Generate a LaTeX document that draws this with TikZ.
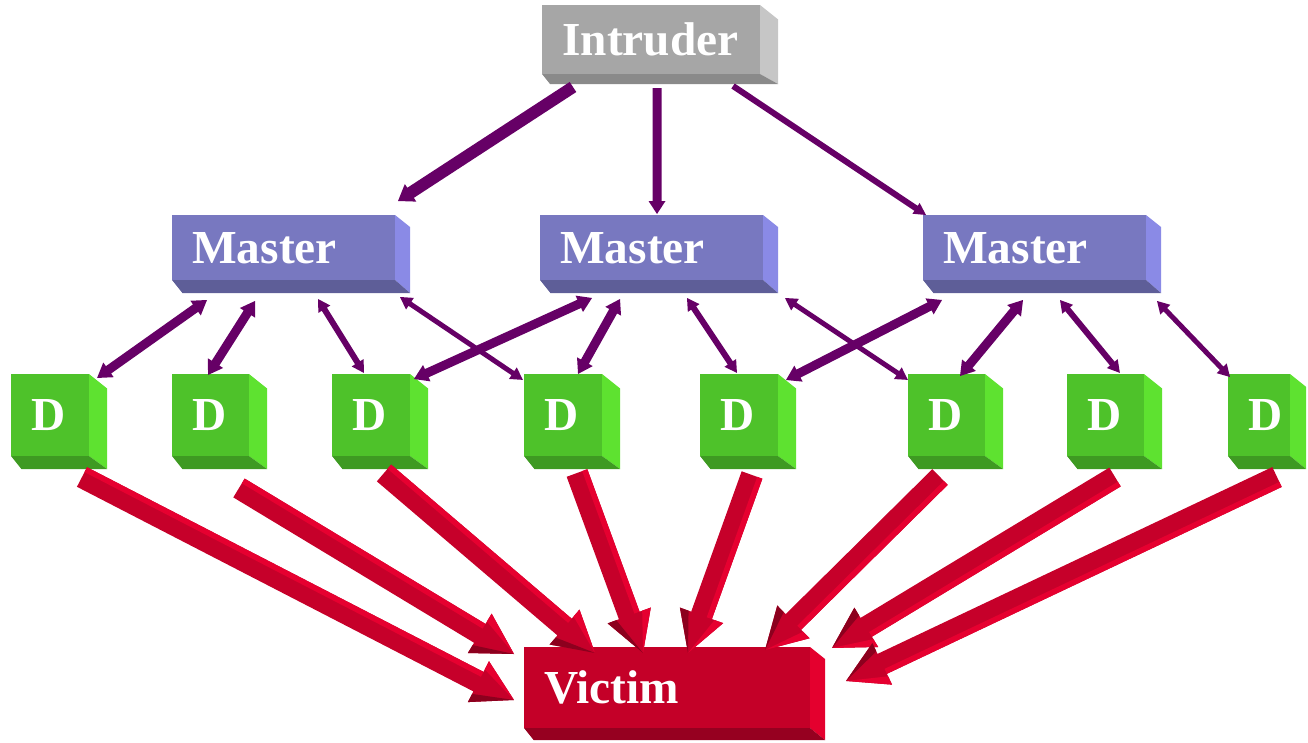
\documentclass[tikz,border=0pt]{standalone}
\usepackage{fontspec}
\setmainfont{Liberation Serif}
\usetikzlibrary{calc}

% face colours of the bevelled boxes
\definecolor{greyfront}{RGB}{166,166,166}
\definecolor{greyside}{RGB}{198,198,198}
\definecolor{greybottom}{RGB}{138,138,138}
\definecolor{masterfront}{RGB}{120,120,192}
\definecolor{masterside}{RGB}{138,138,230}
\definecolor{masterbottom}{RGB}{94,94,152}
\definecolor{dronefront}{RGB}{78,194,42}
\definecolor{droneside}{RGB}{94,226,48}
\definecolor{dronebottom}{RGB}{62,154,34}
\definecolor{victimfront}{RGB}{196,0,40}
\definecolor{victimside}{RGB}{228,0,46}
\definecolor{victimbottom}{RGB}{150,0,32}
% arrow colours
\definecolor{ctrl}{RGB}{102,0,102}
\definecolor{flood}{RGB}{198,0,42}
\definecolor{floodlight}{RGB}{230,0,48}
\definecolor{flooddark}{RGB}{140,0,30}

\tikzset{
  boxface/.style={anchor=north west, inner xsep=15pt, inner ysep=0pt,
    align=left, text=white, font=\bfseries\fontsize{35.5}{37}\selectfont},
  ctrlarrow/.style={fill=ctrl},
}

% bevelled box: #1 name, #2-#5 outer corners, #6 right bevel, #7 bottom bevel,
% #8 colour set, #9 label
\newcommand\bevelbox[9]{%
  \pgfmathsetlengthmacro\bbW{(#4-#2-#6)*0.75}%
  \pgfmathsetlengthmacro\bbT{(#4-#2-#6)*0.75-30}%
  \pgfmathsetlengthmacro\bbH{(#5-#3-#7)*0.75}%
  \fill[#8side] (#4-#6,#3) -- (#4,#3+#6*0.8) -- (#4,#5) -- (#4-#6,#5-#7) -- cycle;
  \fill[#8bottom] (#2,#5-#7) -- (#4-#6,#5-#7) -- (#4,#5) -- (#2+#7*0.8,#5) -- cycle;
  \node[boxface, fill=#8front, minimum width=\bbW, minimum height=\bbH,
        text width=\bbT] (#1) at (#2,#3) {#9};
}

% measure the segment from #1 to #2 (shaft width #3, head width #4, head length #5)
\newcommand\arrowframe[5]{%
  \path (#1); \pgfgetlastxy{\baX}{\baY}%
  \path (#2); \pgfgetlastxy{\bbX}{\bbY}%
  \pgfmathsetmacro\baAng{atan2(\bbY-\baY,\bbX-\baX)}%
  \pgfmathsetmacro\baLen{veclen(\bbX-\baX,\bbY-\baY)}%
  \pgfmathsetmacro\baW{#3*0.75/2}%
  \pgfmathsetmacro\baH{#4*0.75/2}%
  \pgfmathsetmacro\baL{#5*0.75}%
  \pgfmathsetmacro\baS{\baLen-\baL}%
}

% one-headed block arrow
\newcommand\blockarrow[6][ctrlarrow]{%
  \arrowframe{#2}{#3}{#4}{#5}{#6}%
  \fill[#1, shift={(\baX,\baY)}, rotate=\baAng]
    (0pt,-\baW pt) -- (\baS pt,-\baW pt) -- (\baS pt,-\baH pt) -- (\baLen pt,0pt)
    -- (\baS pt,\baH pt) -- (\baS pt,\baW pt) -- (0pt,\baW pt) -- cycle;
}

% two-headed block arrow
\newcommand\twowayarrow[5]{%
  \arrowframe{#1}{#2}{#3}{#4}{#5}%
  \fill[ctrlarrow, shift={(\baX,\baY)}, rotate=\baAng]
    (0pt,0pt) -- (\baL pt,\baH pt) -- (\baL pt,\baW pt) -- (\baS pt,\baW pt)
    -- (\baS pt,\baH pt) -- (\baLen pt,0pt) -- (\baS pt,-\baH pt) -- (\baS pt,-\baW pt)
    -- (\baL pt,-\baW pt) -- (\baL pt,-\baH pt) -- cycle;
}

% shaded flood arrow towards the victim
\newcommand\floodarrow[2]{%
  \arrowframe{#1}{#2}{22}{46}{40}%
  \begin{scope}[shift={(\baX,\baY)}, rotate=\baAng]
    \fill[flood] (0pt,-\baW pt) -- (\baS pt,-\baW pt) -- (\baS pt,-\baH pt) -- (\baLen pt,0pt)
      -- (\baS pt,\baH pt) -- (\baS pt,\baW pt) -- (0pt,\baW pt) -- cycle;
    \fill[floodlight] (0pt,\baW pt) -- (\baS pt,\baW pt) -- (\baS pt,0.5*\baW pt)
      -- (0pt,0.5*\baW pt) -- cycle;
    \fill[floodlight] (\baS pt,\baH pt) -- (\baLen pt,0pt) -- (\baS pt,0.6*\baH pt) -- cycle;
    \fill[flooddark] (\baS pt,-\baH pt) -- (\baLen pt,0pt) -- (\baS pt,-0.6*\baH pt) -- cycle;
  \end{scope}
}

\begin{document}
\begin{tikzpicture}[x=0.75pt, y=-0.75pt]
\useasboundingbox (0,0) rectangle (1308,742);

% ---- boxes ----
\bevelbox{intruder}{542}{5}{778}{84}{18}{10}{grey}{Intruder}
\bevelbox{m1}{172}{215}{410}{293}{15}{13}{master}{Master}
\bevelbox{m2}{540}{215}{778}{293}{15}{13}{master}{Master}
\bevelbox{m3}{923}{215}{1161}{293}{15}{13}{master}{Master}
\bevelbox{d1}{11}{374}{107}{469}{18}{13}{drone}{D}
\bevelbox{d2}{172}{374}{267}{469}{18}{13}{drone}{D}
\bevelbox{d3}{332}{374}{428}{469}{18}{13}{drone}{D}
\bevelbox{d4}{524}{374}{620}{469}{18}{13}{drone}{D}
\bevelbox{d5}{700}{374}{796}{469}{18}{13}{drone}{D}
\bevelbox{d6}{908}{374}{1003}{469}{18}{13}{drone}{D}
\bevelbox{d7}{1067}{374}{1162}{469}{18}{13}{drone}{D}
\bevelbox{d8}{1228}{374}{1306}{469}{16}{13}{drone}{D}
\bevelbox{victim}{524}{647}{825}{740}{15}{12}{victim}{Victim}

% ---- arrow end points ----
\coordinate (i-m1) at (573,87);   \coordinate (m1-i) at (398,201);
\coordinate (i-m2) at (657,88);   \coordinate (m2-i) at (657,214);
\coordinate (i-m3) at (733,86);   \coordinate (m3-i) at (926,215);

\coordinate (m1-d1) at (207,300); \coordinate (d1-m1) at (97,378);
\coordinate (m1-d2) at (255,301); \coordinate (d2-m1) at (208,375);
\coordinate (m1-d3) at (318,299); \coordinate (d3-m1) at (364,373);
\coordinate (m1-d4) at (400,297); \coordinate (d4-m1) at (523,380);
\coordinate (m2-d3) at (592,298); \coordinate (d3-m2) at (414,379);
\coordinate (m2-d4) at (620,299); \coordinate (d4-m2) at (578,374);
\coordinate (m2-d5) at (687,298); \coordinate (d5-m2) at (737,373);
\coordinate (m2-d6) at (785,298); \coordinate (d6-m2) at (908,380);
\coordinate (m3-d5) at (942,300); \coordinate (d5-m3) at (786,380);
\coordinate (m3-d6) at (1023,300);\coordinate (d6-m3) at (960,376);
\coordinate (m3-d7) at (1060,300);\coordinate (d7-m3) at (1120,373);
\coordinate (m3-d8) at (1157,301);\coordinate (d8-m3) at (1230,377);

\coordinate (d1-v) at (82,477);   \coordinate (v-d1) at (514,700);
\coordinate (d2-v) at (239,488);  \coordinate (v-d2) at (514,654);
\coordinate (d3-v) at (384,473);  \coordinate (v-d3) at (595,653);
\coordinate (d4-v) at (577,473);  \coordinate (v-d4) at (643,653);
\coordinate (d5-v) at (752,475);  \coordinate (v-d5) at (688,653);
\coordinate (d6-v) at (940,477);  \coordinate (v-d6) at (765,650);
\coordinate (d7-v) at (1115,477); \coordinate (v-d7) at (832,648);
\coordinate (d8-v) at (1277,477); \coordinate (v-d8) at (846,681);

% ---- intruder to masters ----
\blockarrow{i-m1}{m1-i}{12}{21}{15}
\blockarrow{i-m2}{m2-i}{9}{17}{13}
\blockarrow{i-m3}{m3-i}{6}{13}{12}

% ---- masters to daemons ----
\twowayarrow{m1-d1}{d1-m1}{9}{18}{14}
\twowayarrow{m1-d2}{d2-m1}{9}{18}{14}
\twowayarrow{m1-d3}{d3-m1}{6}{14}{12}
\twowayarrow{m1-d4}{d4-m1}{5}{14}{12}
\twowayarrow{m2-d3}{d3-m2}{9}{18}{14}
\twowayarrow{m2-d4}{d4-m2}{9}{18}{14}
\twowayarrow{m2-d5}{d5-m2}{6}{14}{12}
\twowayarrow{m2-d6}{d6-m2}{5}{14}{12}
\twowayarrow{m3-d5}{d5-m3}{9}{18}{14}
\twowayarrow{m3-d6}{d6-m3}{9}{18}{14}
\twowayarrow{m3-d7}{d7-m3}{6}{14}{12}
\twowayarrow{m3-d8}{d8-m3}{5}{14}{12}

% ---- daemons to victim ----
\floodarrow{d1-v}{v-d1}
\floodarrow{d2-v}{v-d2}
\floodarrow{d3-v}{v-d3}
\floodarrow{d4-v}{v-d4}
\floodarrow{d5-v}{v-d5}
\floodarrow{d6-v}{v-d6}
\floodarrow{d7-v}{v-d7}
\floodarrow{d8-v}{v-d8}
\end{tikzpicture}
\end{document}
